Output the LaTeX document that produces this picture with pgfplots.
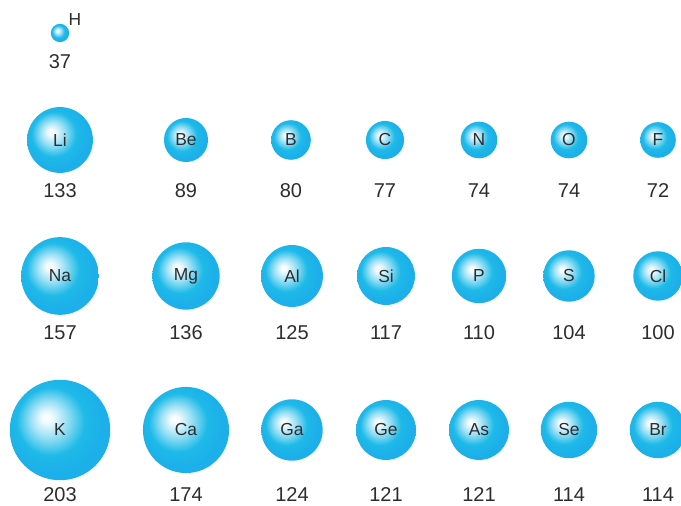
\documentclass[border=0pt]{standalone}
\usepackage{pgfplots}
\usepackage{pgfplotstable}
\usepackage{fontspec}
\setmainfont{Liberation Sans}
\pgfplotsset{compat=1.18}

\definecolor{ballcyan}{RGB}{30,186,232}
\definecolor{txt}{RGB}{45,45,45}
% TikZ maps the path box onto the inner 50bp of the shading: edge of ball = 25bp
\pgfdeclareradialshading{sphere}{\pgfpoint{-7bp}{6.5bp}}{%
  color(0bp)=(white); color(2.5bp)=(white!94!ballcyan); color(9bp)=(ballcyan!45!white);
  color(17bp)=(ballcyan); color(25bp)=(ballcyan!94!blue); color(50bp)=(ballcyan!94!blue)}

% x, y = centre in px, r = atomic radius (pm), ly = y of the value label
\pgfplotstableread{
x   y   r   ly   el
60  33  37  62   {}
60  140 133 191  Li
186 140 89  191  Be
291 140 80  191  B
385 140 77  191  C
479 140 74  191  N
569 140 74  191  O
658 140 72  191  F
60  276 157 333  Na
186 276 136 333  Mg
292 276 125 333  Al
386 276 117 333  Si
479 276 110 333  P
569 276 104 333  S
658 276 100 333  Cl
60  430 203 495  K
186 430 174 495  Ca
292 430 124 495  Ga
386 430 121 495  Ge
479 430 121 495  As
569 430 114 495  Se
658 430 114 495  Br
}\atoms

\begin{document}
\begin{tikzpicture}
\begin{axis}[
  x=0.5pt, y=0.5pt, y dir=reverse,
  xmin=0, xmax=681, ymin=0, ymax=506,
  hide axis, clip=false,
]
% spheres with symbols
\addplot[draw=none, mark=none,
  visualization depends on={\thisrow{r} \as \rad},
  point meta=explicit symbolic,
  nodes near coords,
  every node near coord/.append style={anchor=center, circle, inner sep=0pt,
    minimum size={0.2475pt*\rad}, shading=sphere, text=txt,
    font=\fontsize{8.7}{9}\selectfont}
] table[x=x, y=y, meta=el] {\atoms};
% radius values
\addplot[draw=none, mark=none,
  point meta=explicit symbolic,
  nodes near coords,
  every node near coord/.append style={anchor=center, inner sep=0pt, text=txt,
    font=\fontsize{10}{11}\selectfont}
] table[x=x, y=ly, meta=r] {\atoms};
% hydrogen symbol
\addplot[draw=none, mark=none,
  point meta=explicit symbolic,
  nodes near coords,
  every node near coord/.append style={anchor=center, inner sep=0pt, text=txt,
    font=\fontsize{8.7}{9}\selectfont}
] coordinates {(75,20) [H]};
\end{axis}
\pgfresetboundingbox
\path (current axis.south west) rectangle (current axis.north east);
\end{tikzpicture}
\end{document}
